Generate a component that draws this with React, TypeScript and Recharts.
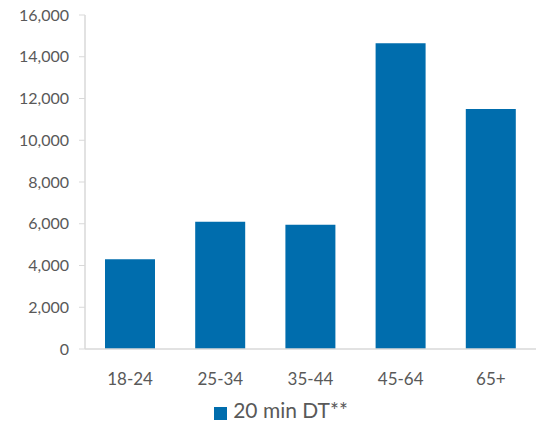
import { BarChart, Bar, XAxis, YAxis, Legend } from "recharts"

const ageGroups = ["18-24", "25-34", "35-44", "45-64", "65+"]
const driveTime20 = [4300, 6100, 5950, 14650, 11500]
const yTicks = [0, 2000, 4000, 6000, 8000, 10000, 12000, 14000, 16000]

const data = ageGroups.map((group, i) => ({ group, value: driveTime20[i] }))

const grey = "#595959"
const axisGrey = "#d9d9d9"
const font = "Lato, 'Open Sans', sans-serif"

export default function App() {
    return (
        <div style={{ position: "absolute", left: 0, top: 0, fontFamily: font }}>
            <BarChart
                width={543}
                height={427}
                data={data}
                margin={{ top: 15, right: 7, left: 0, bottom: 2 }}
            >
                <XAxis
                    dataKey="group"
                    axisLine={{ stroke: axisGrey, strokeWidth: 1.5 }}
                    tickLine={false}
                    tick={{ fill: grey, fontSize: 17, fontFamily: font }}
                    tickMargin={18}
                    height={48}
                />
                <YAxis
                    domain={[0, 16000]}
                    ticks={yTicks}
                    interval={0}
                    width={85}
                    axisLine={{ stroke: axisGrey, strokeWidth: 1.5 }}
                    tickLine={{ stroke: axisGrey }}
                    tickSize={6}
                    tickMargin={10}
                    tick={{ fill: grey, fontSize: 16, fontFamily: font }}
                    tickFormatter={(v: number) => v.toLocaleString("en-US")}
                />
                <Legend
                    verticalAlign="bottom"
                    iconType="square"
                    iconSize={13}
                    height={28}
                    wrapperStyle={{ paddingLeft: 18 }}
                    formatter={() => (
                        <span style={{ color: grey, fontSize: 21, fontFamily: font, marginLeft: 2 }}>20 min DT**</span>
                    )}
                />
                <Bar dataKey="value" name="20 min DT**" fill="#006DAD" barSize={50} isAnimationActive={false} />
            </BarChart>
        </div>
    )
}
